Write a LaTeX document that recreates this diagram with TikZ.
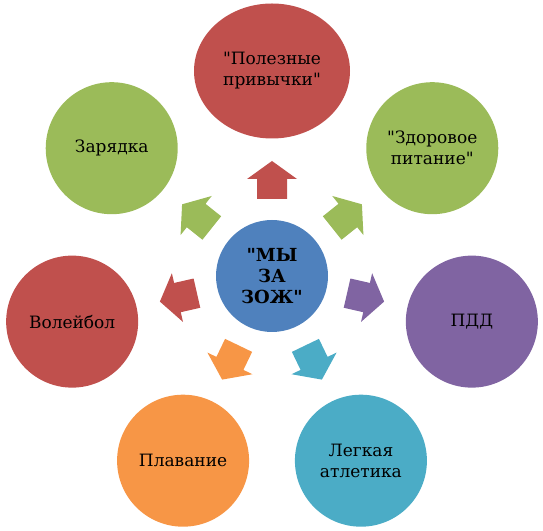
\documentclass[tikz,border=0pt]{standalone}
\usepackage{fontspec}
\setmainfont{DejaVu Serif}
\newfontfamily\tnr{DejaVu Serif}[Ligatures=ResetAll]
\usetikzlibrary{shapes.geometric}
\definecolor{cred}{HTML}{C0504D}
\definecolor{cgreen}{HTML}{9BBB59}
\definecolor{cpurple}{HTML}{8064A2}
\definecolor{corange}{HTML}{F79646}
\definecolor{cteal}{HTML}{4BACC6}
\definecolor{cblue}{HTML}{4F81BD}
\newcommand{\dq}{\symbol{34}}
\begin{document}
\begin{tikzpicture}[x=1pt,y=1pt,
  outer/.style={circle, minimum size=132pt, inner sep=0pt, align=center,
    font=\tnr\fontsize{17}{21}\selectfont, text=black},
  hub/.style={circle, minimum size=112pt, inner sep=0pt, align=center, fill=cblue,
    font=\tnr\fontsize{18}{21}\selectfont\bfseries, text=black},
  blockarrow/.style={draw=none}]
\useasboundingbox (0,0) rectangle (543,530);
\node[hub] (c) at (272,254) {\dq МЫ\\ЗА\\ЗОЖ\dq};
\path (c) ++(90:205) node[outer, ellipse, minimum width=156pt, minimum height=135pt, fill=cred] (n1) {\dq Полезные\\привычки\dq};
\path (c) ++(141.43:205) node[outer, fill=cgreen] (n2) {Зарядка};
\path (c) ++(38.57:205) node[outer, fill=cgreen] (n3) {\dq Здоровое\\питание\dq};
\path (c) ++(192.86:205) node[outer, fill=cred] (n4) {Волейбол};
\path (c) ++(-12.86:205) node[outer, fill=cpurple] (n5) {ПДД};
\path (c) ++(244.29:205) node[outer, fill=corange] (n6) {Плавание};
\path (c) ++(295.71:205) node[outer, fill=cteal] (n7) {Легкая\\атлетика};
\foreach \a/\col in {90/cred, 141.43/cgreen, 38.57/cgreen, 192.86/cred, -12.86/cpurple, 244.29/corange, 295.71/cteal}
  \fill[blockarrow, \col, shift={(c.center)}, rotate=\a]
    (77,-15) -- (97,-15) -- (97,-25) -- (115,0) -- (97,25) -- (97,15) -- (77,15) -- cycle;
\end{tikzpicture}
\end{document}
